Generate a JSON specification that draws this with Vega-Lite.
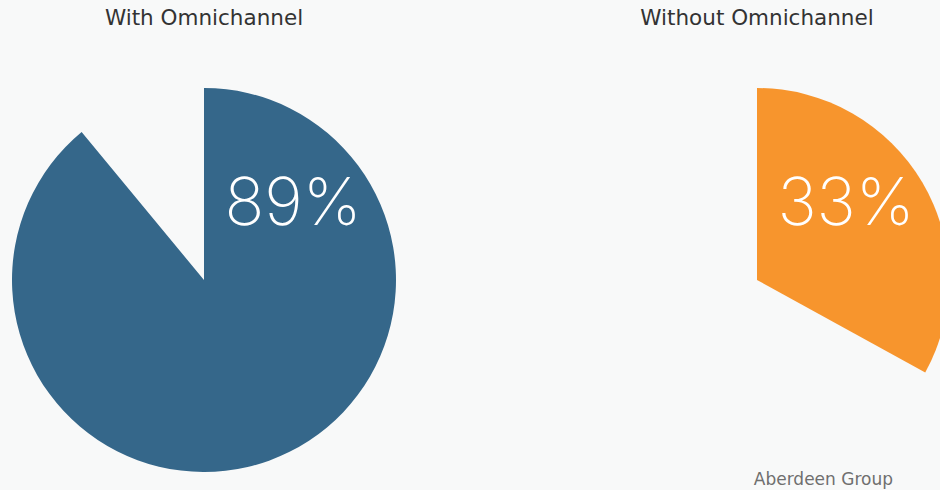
{
  "$schema": "https://vega.github.io/schema/vega-lite/v6.json",
  "width": 940,
  "height": 490,
  "autosize": {"type": "fit", "contains": "padding"},
  "padding": 0,
  "background": "#f8f9f9",
  "config": {"view": {"stroke": null}},
  "data": {
    "values": [
      {"chart": "With Omnichannel", "segment": "yes", "pct": 89, "label": "89%"},
      {"chart": "With Omnichannel", "segment": "no", "pct": 11, "label": ""},
      {"chart": "Without Omnichannel", "segment": "yes", "pct": 33, "label": "33%"},
      {"chart": "Without Omnichannel", "segment": "no", "pct": 67, "label": ""}
    ]
  },
  "layer": [
    {
      "transform": [{"filter": "datum.chart === 'With Omnichannel'"}],
      "mark": {"type": "arc", "outerRadius": 192},
      "encoding": {
        "x": {"value": 204},
        "y": {"value": 280},
        "theta": {"field": "pct", "type": "quantitative", "stack": true},
        "order": {"field": "segment", "sort": "descending"},
        "color": {
          "field": "segment",
          "type": "nominal",
          "scale": {"domain": ["yes", "no"], "range": ["#35678a", "transparent"]},
          "legend": null
        }
      }
    },
    {
      "transform": [{"filter": "datum.chart === 'Without Omnichannel'"}],
      "mark": {"type": "arc", "outerRadius": 192},
      "encoding": {
        "x": {"value": 757},
        "y": {"value": 280},
        "theta": {"field": "pct", "type": "quantitative", "stack": true},
        "order": {"field": "segment", "sort": "descending"},
        "fill": {
          "field": "segment",
          "type": "nominal",
          "scale": {"domain": ["yes", "no"], "range": ["#f7952d", "transparent"]},
          "legend": null
        }
      }
    },
    {
      "transform": [{"filter": "datum.segment === 'yes'"}],
      "mark": {"type": "text", "dx": 89, "fontSize": 66, "font": "Inter", "fontWeight": 200, "color": "#ffffff", "baseline": "middle", "align": "center"},
      "encoding": {
        "x": {"field": "chart", "type": "nominal", "scale": {"type": "point", "padding": 0, "domain": ["With Omnichannel", "Without Omnichannel"], "range": [204, 757]}, "axis": null},
        "y": {"value": 205},
        "text": {"field": "label"}
      }
    },
    {
      "transform": [{"filter": "datum.segment === 'yes'"}],
      "mark": {"type": "text", "fontSize": 21.5, "font": "DejaVu Sans", "color": "#333333", "baseline": "middle", "align": "center"},
      "encoding": {
        "x": {"field": "chart", "type": "nominal", "scale": {"type": "point", "padding": 0, "domain": ["With Omnichannel", "Without Omnichannel"], "range": [204, 757]}, "axis": null},
        "y": {"value": 19},
        "text": {"field": "chart"}
      }
    },
    {
      "data": {"values": [{"source": "Aberdeen Group"}]},
      "mark": {"type": "text", "fontSize": 17, "font": "DejaVu Sans", "color": "#6f6f6f", "baseline": "middle", "align": "right"},
      "encoding": {
        "x": {"value": 893},
        "y": {"value": 480},
        "text": {"field": "source"}
      }
    }
  ],
  "resolve": {"scale": {"theta": "independent", "color": "independent", "fill": "independent"}}
}
